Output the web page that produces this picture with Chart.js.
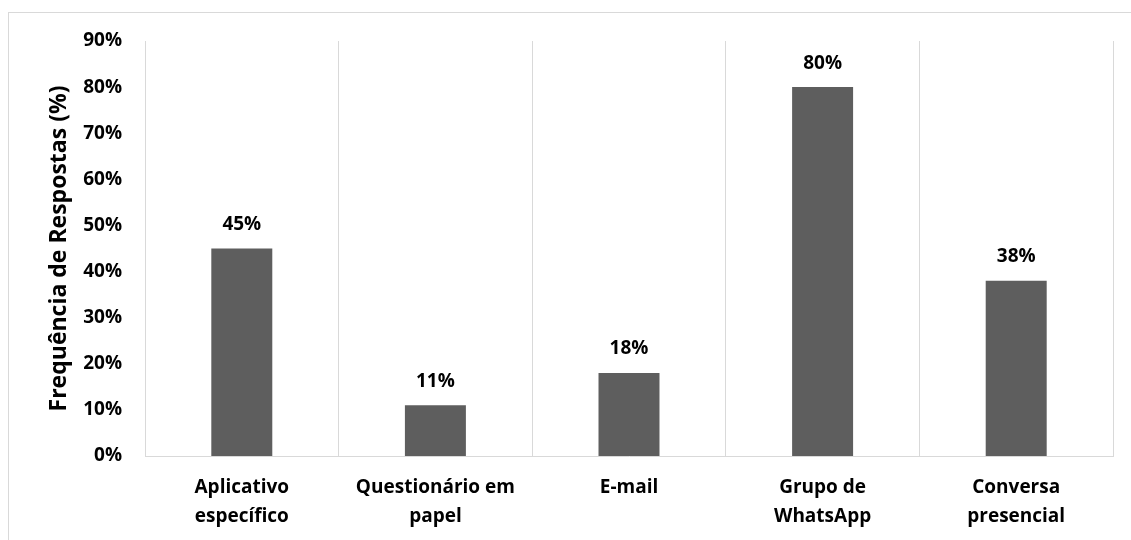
<!DOCTYPE html>
<html>
<head>
<meta charset="utf-8">
<script src="https://cdn.jsdelivr.net/npm/chart.js@4"></script>
<style>
  body { margin: 0; background: #fff; }
  #wrap { position: relative; width: 1131px; height: 540px; overflow: hidden; }
  #frame { position: absolute; left: 8px; top: 12px; width: 1300px; height: 700px; border: 1px solid #d9d9d9; }
  canvas { position: absolute; left: 0; top: 0; }
</style>
</head>
<body>
<div id="wrap">
  <div id="frame"></div>
  <canvas id="chart" width="1131" height="540"></canvas>
</div>
<script>
// データ
const categories = [
  ["Aplicativo", "específico"],
  ["Questionário em", "papel"],
  ["E-mail"],
  ["Grupo de", "WhatsApp"],
  ["Conversa", "presencial"],
];
const values = [45, 11, 18, 80, 38];
const yTicks = [0, 10, 20, 30, 40, 50, 60, 70, 80, 90];

const fontFamily = "'Open Sans', Lato, sans-serif";

// バーの上にラベルを描画
const barLabels = {
  id: "barLabels",
  afterDatasetsDraw(chart) {
    const ctx = chart.ctx;
    const meta = chart.getDatasetMeta(0);
    ctx.save();
    ctx.font = "bold 19px " + fontFamily;
    ctx.fillStyle = "#000";
    ctx.textAlign = "center";
    ctx.textBaseline = "middle";
    meta.data.forEach((bar, i) => {
      ctx.fillText(values[i] + "%", bar.x, bar.y - 24);
    });
    ctx.restore();
  },
};

new Chart(document.getElementById("chart"), {
  type: "bar",
  data: {
    labels: categories,
    datasets: [
      {
        data: values,
        backgroundColor: "#5e5e5e",
        categoryPercentage: 1,
        barPercentage: 0.315,
      },
    ],
  },
  options: {
    responsive: false,
    animation: false,
    layout: { padding: { left: 0, top: 41, right: 18, bottom: 0 } },
    plugins: {
      legend: { display: false },
      tooltip: { enabled: false },
    },
    scales: {
      x: {
        grid: { color: "#d9d9d9", drawTicks: false, offset: true },
        border: { color: "#d9d9d9" },
        ticks: {
          color: "#000",
          padding: 17,
          maxRotation: 0,
          font: { family: fontFamily, size: 19, weight: "bold", lineHeight: 1.53 },
        },
        afterFit(scale) {
          scale.height = 84;
        },
      },
      y: {
        min: 0,
        max: 90,
        grid: { display: false, drawTicks: false },
        border: { display: false },
        afterBuildTicks(scale) {
          scale.ticks = yTicks.map((v) => ({ value: v }));
        },
        ticks: {
          color: "#000",
          padding: 23,
          font: { family: fontFamily, size: 19, weight: "bold" },
          callback: function (value) {
            return value + "%";
          },
        },
        title: {
          display: true,
          text: "Frequência de Respostas (%)",
          color: "#000",
          padding: { top: 46, bottom: 0 },
          font: { family: fontFamily, size: 23, weight: "bold" },
        },
        afterFit(scale) {
          scale.width = 145;
        },
      },
    },
  },
  plugins: [barLabels],
});
</script>
</body>
</html>
